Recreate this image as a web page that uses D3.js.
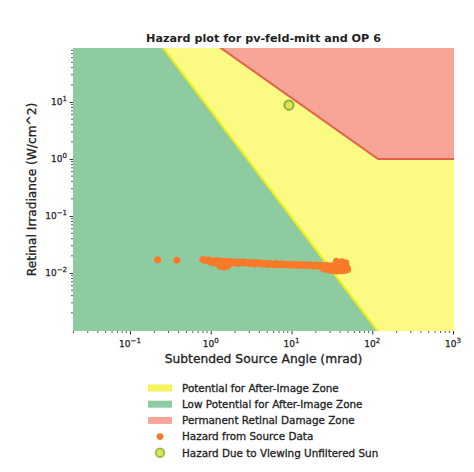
<!DOCTYPE html>
<html>
<head>
<meta charset="utf-8">
<script src="https://cdn.jsdelivr.net/npm/d3@7"></script>
<style>
  html, body { margin: 0; padding: 0; background: #fff; }
  svg { display: block; }
  text { font-family: "DejaVu Sans", "Liberation Sans", sans-serif; fill: #222; }
</style>
</head>
<body>
<script>
// Axis limits (mrad, W/cm^2)
const xLimits = [0.0197, 1028];
const yLimits = [0.00096, 88.5];
const xTickExps = [-1, 0, 1, 2, 3];
const yTickExps = [-2, -1, 0, 1];

// Boundary between low potential and potential for after-image
const afterImageAngles = [0.2, 141];
const afterImageIrr = [143, 0.00067];

// Permanent retinal damage threshold
const burnAngles = [0.8, 118, 2000];
const burnIrr = [147.5, 1.0, 1.0];

// Hazard from source data
const hazardAngles = [
  0.22, 0.38,
  0.80, 0.84, 0.88, 0.93, 0.98, 1.03, 1.09, 1.15, 1.21, 1.28, 1.35, 1.42, 1.50, 1.58,
  1.67, 1.76, 1.86, 1.96, 2.07, 2.18, 2.30, 2.43, 2.56, 2.70, 2.85, 3.01, 3.17, 3.35,
  3.53, 3.72, 3.93, 4.14, 4.37, 4.61, 4.87, 5.13, 5.41, 5.71, 6.03, 6.36, 6.71, 7.08,
  7.47, 7.88, 8.31, 8.77, 9.25, 9.76, 10.3, 10.9, 11.5, 12.1, 12.8, 13.5, 14.2, 15.0,
  15.8, 16.7, 17.6, 18.6, 19.6, 20.7, 21.8, 23.0, 24.3, 25.6, 27.0, 28.5, 30.1, 31.7,
  33.5, 35.3, 37.3, 39.3, 41.5, 43.8, 46.2, 48.7,
  1.30, 1.45, 1.62,
  25.0, 27.7, 30.6, 33.9, 37.5, 41.5, 45.9, 49.5,
  36.0, 42.0, 47.0
];
const hazardIrr = [
  0.0170, 0.0168,
  0.0172, 0.0168, 0.0165, 0.0170, 0.0158, 0.0162, 0.0150, 0.0166, 0.0155, 0.0163, 0.0149, 0.0160, 0.0158, 0.0152,
  0.0161, 0.0156, 0.0150, 0.0158, 0.0154, 0.0147, 0.0155, 0.0151, 0.0157, 0.0149, 0.0153, 0.0146, 0.0152, 0.0150,
  0.0144, 0.0151, 0.0147, 0.0149, 0.0143, 0.0148, 0.0145, 0.0141, 0.0147, 0.0144, 0.0140, 0.0146, 0.0142, 0.0139,
  0.0145, 0.0141, 0.0138, 0.0143, 0.0140, 0.0137, 0.0142, 0.0139, 0.0136, 0.0141, 0.0138, 0.0135, 0.0140, 0.0137,
  0.0134, 0.0139, 0.0136, 0.0133, 0.0138, 0.0135, 0.0131, 0.0137, 0.0133, 0.0130, 0.0136, 0.0132, 0.0129, 0.0134,
  0.0131, 0.0127, 0.0133, 0.0129, 0.0126, 0.0131, 0.0128, 0.0125,
  0.0130, 0.0128, 0.0133,
  0.0118, 0.0115, 0.0112, 0.0110, 0.0108, 0.0109, 0.0111, 0.0115,
  0.0160, 0.0158, 0.0150
];

// Hazard due to viewing the unfiltered sun
const sunAngle = [9.3];
const sunIrr = [8.8];

const legendLabels = [
  "Potential for After-Image Zone",
  "Low Potential for After-Image Zone",
  "Permanent Retinal Damage Zone",
  "Hazard from Source Data",
  "Hazard Due to Viewing Unfiltered Sun"
];

const W = 474, H = 472;
const plot = { left: 73, right: 454, top: 48, bottom: 331 };

const colors = {
  green: "#8ecba0",
  yellow: "#fbfb84",
  pink: "#f6a596",
  burnLine: "#e2604c",
  afterLine: "#eeee1a",
  dot: "#fa7a2a",
  sunFill: "#e3e64a",
  sunEdge: "#8da84a"
};

const svg = d3.select("body").append("svg").attr("width", W).attr("height", H);

const x = d3.scaleLog().domain(xLimits).range([plot.left, plot.right]);
const y = d3.scaleLog().domain(yLimits).range([plot.bottom, plot.top]);

svg.append("defs").append("clipPath").attr("id", "plotClip")
  .append("rect")
  .attr("x", plot.left).attr("y", plot.top)
  .attr("width", plot.right - plot.left).attr("height", plot.bottom - plot.top);

const zones = svg.append("g").attr("clip-path", "url(#plotClip)");

// Low potential zone fills the whole axes
zones.append("rect")
  .attr("x", plot.left).attr("y", plot.top)
  .attr("width", plot.right - plot.left).attr("height", plot.bottom - plot.top)
  .attr("fill", colors.green);

// Potential for after-image zone: right of the after-image boundary
const afterPts = afterImageAngles.map((a, i) => [x(a), y(afterImageIrr[i])]);
const yellowPoly = [
  ...afterPts,
  [x(xLimits[1]) + 10, afterPts[afterPts.length - 1][1]],
  [x(xLimits[1]) + 10, afterPts[0][1]]
];
zones.append("path")
  .attr("d", d3.line()(yellowPoly) + "Z")
  .attr("fill", colors.yellow);

// Permanent retinal damage zone: above the burn threshold
const burnPts = burnAngles.map((a, i) => [x(a), y(burnIrr[i])]);
const pinkPoly = [
  ...burnPts,
  [burnPts[burnPts.length - 1][0], y(yLimits[1]) - 10],
  [burnPts[0][0], y(yLimits[1]) - 10]
];
zones.append("path")
  .attr("d", d3.line()(pinkPoly) + "Z")
  .attr("fill", colors.pink);

zones.append("path")
  .attr("d", d3.line()(afterPts))
  .attr("fill", "none").attr("stroke", colors.afterLine).attr("stroke-width", 2.2);

zones.append("path")
  .attr("d", d3.line()(burnPts))
  .attr("fill", "none").attr("stroke", colors.burnLine).attr("stroke-width", 2);

// Source data hazard points
zones.append("g").selectAll("circle")
  .data(hazardAngles.map((a, i) => [a, hazardIrr[i]]))
  .join("circle")
  .attr("cx", d => x(d[0])).attr("cy", d => y(d[1]))
  .attr("r", 3.5)
  .attr("fill", colors.dot);

// Unfiltered sun
zones.append("g").selectAll("circle")
  .data(sunAngle.map((a, i) => [a, sunIrr[i]]))
  .join("circle")
  .attr("cx", d => x(d[0])).attr("cy", d => y(d[1]))
  .attr("r", 4.6)
  .attr("fill", colors.sunFill)
  .attr("stroke", colors.sunEdge).attr("stroke-width", 2);

// Superscript tick labels
function powLabel(sel, e) {
  sel.append("tspan").text("10");
  sel.append("tspan").attr("dy", -4).attr("font-size", 7).text(e < 0 ? "\u2212" + (-e) : String(e));
}

// X axis
const xAxis = d3.axisBottom(x)
  .tickValues(xTickExps.map(e => Math.pow(10, e)))
  .tickSize(3.5).tickFormat("");
const gx = svg.append("g").attr("transform", `translate(0,${plot.bottom})`).call(xAxis);
gx.select(".domain").remove();
gx.selectAll(".tick line").attr("stroke", "#333");

const xMinor = [];
for (let e = -2; e <= 3; e++) for (let m = 2; m <= 9; m++) {
  const v = m * Math.pow(10, e);
  if (v > xLimits[0] && v < xLimits[1]) xMinor.push(v);
}
svg.append("g").selectAll("line").data(xMinor).join("line")
  .attr("x1", d => x(d)).attr("x2", d => x(d))
  .attr("y1", plot.bottom).attr("y2", plot.bottom + 2)
  .attr("stroke", "#333").attr("stroke-width", 0.8);

xTickExps.forEach(e => {
  const t = svg.append("text")
    .attr("x", x(Math.pow(10, e))).attr("y", plot.bottom + 16)
    .attr("text-anchor", "middle").attr("font-size", 9)
    .attr("stroke", "#222").attr("stroke-width", 0.25);
  powLabel(t, e);
});

// Y axis
const yAxis = d3.axisLeft(y)
  .tickValues(yTickExps.map(e => Math.pow(10, e)))
  .tickSize(3.5).tickFormat("");
const gy = svg.append("g").attr("transform", `translate(${plot.left},0)`).call(yAxis);
gy.select(".domain").remove();
gy.selectAll(".tick line").attr("stroke", "#333");

const yMinor = [];
for (let e = -4; e <= 2; e++) for (let m = 2; m <= 9; m++) {
  const v = m * Math.pow(10, e);
  if (v > yLimits[0] && v < yLimits[1]) yMinor.push(v);
}
svg.append("g").selectAll("line").data(yMinor).join("line")
  .attr("x1", plot.left - 2).attr("x2", plot.left)
  .attr("y1", d => y(d)).attr("y2", d => y(d))
  .attr("stroke", "#333").attr("stroke-width", 0.8);

yTickExps.forEach(e => {
  const t = svg.append("text")
    .attr("x", plot.left - 6).attr("y", y(Math.pow(10, e)) + 3.5)
    .attr("text-anchor", "end").attr("font-size", 9)
    .attr("stroke", "#222").attr("stroke-width", 0.25);
  powLabel(t, e);
});

// Title and axis labels
svg.append("text")
  .attr("x", (plot.left + plot.right) / 2).attr("y", 42)
  .attr("text-anchor", "middle").attr("font-size", 11.2).attr("font-weight", "bold")
  .text("Hazard plot for pv-feld-mitt and OP 6");

svg.append("text")
  .attr("x", (plot.left + plot.right) / 2).attr("y", 363)
  .attr("text-anchor", "middle").attr("font-size", 12.3)
  .attr("stroke", "#222").attr("stroke-width", 0.3)
  .text("Subtended Source Angle (mrad)");

svg.append("text")
  .attr("transform", `translate(36,${(plot.top + plot.bottom) / 2}) rotate(-90)`)
  .attr("text-anchor", "middle").attr("font-size", 12.2)
  .attr("stroke", "#222").attr("stroke-width", 0.3)
  .text("Retinal Irradiance (W/cm^2)");

// Legend
const legend = svg.append("g");
const legY0 = 388, legDy = 16.2, legX = 148;
const patchColors = ["#f4f45c", colors.green, colors.pink];
legendLabels.forEach((label, i) => {
  const cy = legY0 + i * legDy;
  if (i < 3) {
    legend.append("rect")
      .attr("x", legX).attr("y", cy - 3.5).attr("width", 24).attr("height", 7)
      .attr("fill", patchColors[i]);
  } else if (i === 3) {
    legend.append("circle").attr("cx", legX + 12).attr("cy", cy).attr("r", 3.4).attr("fill", colors.dot);
  } else {
    legend.append("circle").attr("cx", legX + 12).attr("cy", cy).attr("r", 4.2)
      .attr("fill", colors.sunFill).attr("stroke", "#9cc050").attr("stroke-width", 2);
  }
  legend.append("text")
    .attr("x", legX + 34).attr("y", cy + 3.7)
    .attr("font-size", 10.4)
    .attr("stroke", "#222").attr("stroke-width", 0.3)
    .text(label);
});
</script>
</body>
</html>
